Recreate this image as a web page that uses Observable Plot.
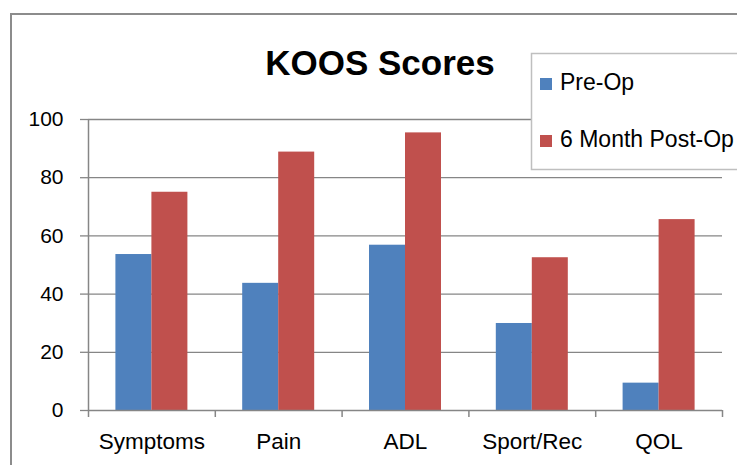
<!DOCTYPE html>
<html><head><meta charset="utf-8">
<script src="https://cdn.jsdelivr.net/npm/d3@7"></script>
<script src="https://cdn.jsdelivr.net/npm/@observablehq/plot@0.6"></script>
<style>
body{margin:0;background:#fff;}
#wrap{position:relative;width:737px;height:465px;overflow:hidden;font-family:"Liberation Sans",Arial,sans-serif;}
#wrap > svg{position:absolute;left:0;top:0;}
</style></head><body><div id="wrap"></div>
<script>
const title = "KOOS Scores";
const categories = ["Symptoms", "Pain", "ADL", "Sport/Rec", "QOL"];
const series = ["Pre-Op", "6 Month Post-Op"];
const preOp = [53.6, 43.7, 56.8, 29.9, 9.4];
const postOp = [75.0, 88.8, 95.4, 52.5, 65.6];
const yTicks = [0, 20, 40, 60, 80, 100];
const colors = ["#4F81BD", "#C0504D"];

const data = categories.flatMap((c, i) => [
  {cat: c, series: series[0], value: preOp[i]},
  {cat: c, series: series[1], value: postOp[i]}
]);

const W = 737, H = 465, mL = 88, mR = 15, mT = 119, mB = 55;
const step = (W - mL - mR) / categories.length;
const barW = 36;
const outer = (step - 2 * barW) / 2;
const grey = "#868686";

const chart = Plot.plot({
  width: W, height: H,
  marginLeft: mL, marginRight: mR, marginTop: mT, marginBottom: mB,
  style: {fontFamily: '"Liberation Sans", Arial, sans-serif', background: "transparent", color: "#000"},
  x: {domain: categories, padding: 0, round: false, label: null},
  y: {domain: [0, 100], label: null},
  color: {domain: series, range: colors},
  marks: [
    Plot.ruleY(yTicks.filter(t => t > 0), {stroke: grey, strokeWidth: 1.3}),
    Plot.barY(data.filter(d => d.series === series[0]), {x: "cat", y: "value", fill: "series", insetLeft: outer, insetRight: step - outer - barW}),
    Plot.barY(data.filter(d => d.series === series[1]), {x: "cat", y: "value", fill: "series", insetLeft: outer + barW, insetRight: outer}),
    Plot.ruleY([0], {stroke: grey, strokeWidth: 1.5}),
    Plot.ruleX([categories[0]], {x: d => d, dx: -step / 2, y1: 0, y2: 100, stroke: grey, strokeWidth: 1.5}),
    Plot.ruleX(categories, {x: d => d, dx: -step / 2, y1: 0, y2: 0, insetBottom: -7, stroke: grey, strokeWidth: 1.5}),
    Plot.ruleX([categories[categories.length - 1]], {x: d => d, dx: step / 2, y1: 0, y2: 0, insetBottom: -7, stroke: grey, strokeWidth: 1.5}),
    Plot.axisY({ticks: yTicks, tickSize: 8, tickPadding: 17, stroke: grey, fill: "#000", fontSize: 21, strokeWidth: 1.3}),
    Plot.axisX({tickSize: 0, tickPadding: 23, fontSize: 22.5, fill: "#000"})
  ]
});
const wrap = document.getElementById("wrap");
wrap.appendChild(chart);

// overlay: outer frame, title, legend
const ov = d3.select(wrap).append("svg").attr("width", W).attr("height", H)
  .style("font-family", '"Liberation Sans", Arial, sans-serif');
ov.append("path").attr("d", `M11,${H} V14 H${W}`).attr("fill", "none").attr("stroke", "#8c8c8c").attr("stroke-width", 2);
ov.append("text").attr("x", 380).attr("y", 75).attr("text-anchor", "middle")
  .attr("font-size", 35).attr("font-weight", "bold").text(title);
const lg = ov.append("g");
lg.append("rect").attr("x", 531.5).attr("y", 53.5).attr("width", 220).attr("height", 116)
  .attr("fill", "#fff").attr("stroke", "#bfbfbf").attr("stroke-width", 1.5);
const legendY = [90, 147];
series.forEach((s, i) => {
  lg.append("rect").attr("x", 540).attr("y", legendY[i] - 12).attr("width", 12).attr("height", 12).attr("fill", colors[i]);
  lg.append("text").attr("x", 560).attr("y", legendY[i]).attr("font-size", 23).text(s);
});
</script></body></html>
